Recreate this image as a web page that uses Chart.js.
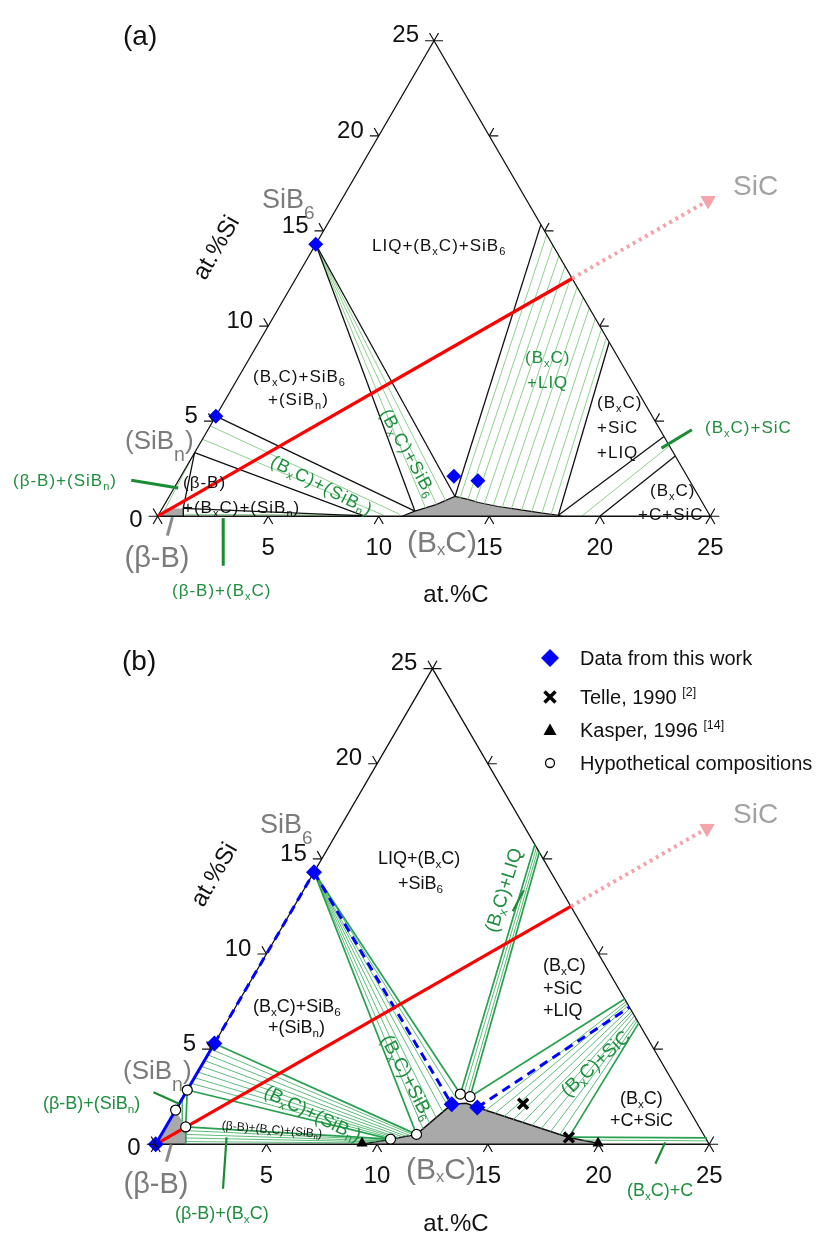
<!DOCTYPE html>
<html>
<head>
<meta charset="utf-8">
<title>B–C–Si isothermal section, B-rich corner</title>
<script src="https://cdn.jsdelivr.net/npm/chart.js@4.4.1/dist/chart.umd.min.js"></script>
<style>
  html, body { margin: 0; padding: 0; background: #ffffff; }
  #wrap { position: relative; width: 824px; height: 1236px; overflow: hidden; background: #ffffff; }
  #wrap canvas { position: absolute; left: 0; }
</style>
</head>
<body>
<div id="wrap">
  <canvas id="panelA" width="824" height="636" style="top:0px"></canvas>
  <canvas id="panelB" width="824" height="636" style="top:600px"></canvas>
</div>
<script>
// Compositions are written as [at.% C, at.% Si]; boron is the balance.

// axis ticks on all three sides of the partial triangle
const sideTicks = [0, 5, 10, 15, 20, 25];
const siTickLabels = ['0', '5', '10', '15', '20', '25'];
const cTickLabels = ['', '5', '10', '15', '20', '25'];

// measured compositions
const thisWorkA = [[0, 14.3], [0, 5.26], [12.35, 2.1], [13.55, 1.87]];
const thisWorkB = [[0, 0], [0, 5.3], [0, 14.3], [12.32, 2.1], [13.56, 1.93]];
const telle1990 = [[15.53, 2.13], [18.48, 0.36]];
const kasper1996 = [[9.29, 0.06], [19.95, 0.06]];
const hypothetical = [[10.47, 0.27], [11.52, 0.52], [12.44, 2.64], [12.95, 2.5], [0, 2.85], [0, 1.8], [0.9, 0.91]];

// B corner to SiC join, solid inside the section, dotted beyond it
const sicJoin = [[0, 0], [12.5, 12.5]];
const sicBeyond = [[12.5, 12.5], [16.45, 16.45]];
const sicArrowTip = [[16.6, 16.6]];

// ---- section (a) ----
const bxcFieldA = [[11.05, 0], [11.5, 0.27], [12.29, 0.61], [12.93, 1.04], [13.64, 0.87], [14.15, 0.72],
  [15.14, 0.51], [16.1, 0.36], [17.07, 0.2], [18.1, 0.05], [18.3, 0]];
const betaFieldA = [[0, 0], [0.15, 0.41], [0.95, 0.41], [1.16, 0]];
const phaseBoundsA = [
  [[0, 14.3], [11.5, 0.27]],
  [[0, 14.3], [12.93, 1.04]],
  [[0, 5.26], [11.5, 0.27]],
  [[0, 3.34], [9.35, 0]],
  [[0, 3.34], [0.95, 0.41], [1.16, 0]],
  [[0.95, 0.41], [9.35, 0.02]],
  [[12.93, 1.04], [9.67, 15.33]],
  [[18.1, 0.05], [15.85, 9.15]],
  [[18.1, 0.05], [20.81, 4.19]],
  [[20, 0], [21.83, 3.17]]
];
const tieLinesA = [
  [[0, 14.3], [11.9, 0.44]], [[0, 14.3], [12.3, 0.62]], [[0, 14.3], [12.62, 0.82]],
  [[0, 4.75], [10.9, 0.1]], [[0, 4.05], [10.2, 0.05]],
  [[0, 3.34], [0.15, 0.41]],
  [[1.16, 0.1], [9.35, 0.06]],
  [[13.2, 0.95], [10.2, 14.8]], [[13.6, 0.87], [10.75, 14.25]], [[14.0, 0.76], [11.3, 13.7]],
  [[14.45, 0.66], [11.85, 13.15]], [[14.9, 0.57], [12.4, 12.6]], [[15.35, 0.48], [12.95, 12.05]],
  [[15.8, 0.41], [13.5, 11.5]], [[16.3, 0.33], [14.05, 10.95]], [[16.8, 0.25], [14.6, 10.4]],
  [[17.3, 0.17], [15.15, 9.85]], [[17.75, 0.1], [15.6, 9.4]],
  [[19.2, 0.03], [21.3, 3.7]]
];
const greenPointersA = [
  [[-2.14, 1.89], [0.19, 1.48]],
  [[3.01, -0.1], [4.27, -2.61]],
  [[21.0, 3.58], [21.89, 4.55]]
];
const grayPointersA = [[[0.69, -0.05], [0.95, -1.02]]];

// ---- section (b) ----
const bxcFieldB = [[9.29, 0], [10.47, 0.27], [11.52, 0.52], [12.32, 2.1], [12.95, 2.15], [13.56, 1.93],
  [18.48, 0.36], [19.95, 0.05], [20.1, 0]];
const betaFieldB = [[0, 0], [0, 1.8], [0.35, 1.45], [0.7, 1.1], [0.9, 0.91], [1.36, 0]];
const phaseBoundsB = [
  [[0, 14.3], [11.52, 0.52]],
  [[0, 14.3], [12.44, 2.64]],
  [[0, 5.3], [11.52, 0.52]],
  [[0, 2.85], [10.47, 0.27]],
  [[0.9, 0.91], [10.47, 0.27]],
  [[0, 2.85], [0.9, 0.91], [1.36, 0]],
  [[12.44, 2.64], [9.25, 15.75]],
  [[12.95, 2.5], [9.65, 15.35]],
  [[12.95, 2.5], [17.36, 7.64]],
  [[18.48, 0.36], [18.63, 6.37]],
  [[18.48, 0.38], [24.72, 0.34]]
];
const tieLinesB = [
  [[0, 14.3], [11.68, 0.8]], [[0, 14.3], [11.82, 1.1]], [[0, 14.3], [11.97, 1.4]],
  [[0, 14.3], [12.12, 1.7]], [[0, 14.3], [12.25, 1.95]], [[0, 14.3], [12.38, 2.4]],
  [[0, 5.0], [11.4, 0.49]], [[0, 4.7], [11.25, 0.46]], [[0, 4.4], [11.1, 0.42]], [[0, 4.1], [10.95, 0.39]],
  [[0, 3.8], [10.8, 0.35]], [[0, 3.5], [10.7, 0.33]], [[0, 3.2], [10.6, 0.3]],
  [[1.0, 0.72], [10.3, 0.23]], [[1.1, 0.52], [10.1, 0.18]], [[1.2, 0.33], [9.9, 0.13]], [[1.3, 0.14], [9.6, 0.07]],
  [[0, 2.4], [0.6, 1.2]],
  [[12.6, 2.6], [9.4, 15.6]], [[12.8, 2.55], [9.52, 15.48]],
  [[14.0, 1.76], [17.5, 7.5]], [[14.5, 1.6], [17.6, 7.4]], [[15.0, 1.45], [17.7, 7.3]],
  [[15.5, 1.29], [17.85, 7.15]], [[16.0, 1.14], [18.0, 7.0]], [[16.5, 0.98], [18.1, 6.9]],
  [[17.0, 0.82], [18.25, 6.75]], [[17.5, 0.67], [18.4, 6.6]], [[18.0, 0.51], [18.5, 6.5]],
  [[19.2, 0.22], [24.82, 0.18]]
];
const blueSolidB = [[[0, 0], [0, 5.3]]];
const blueDashedB = [
  [[0, 5.3], [0, 14.3]],
  [[0, 14.3], [12.32, 2.1]],
  [[13.56, 1.93], [17.8, 7.2]]
];
const greenPointersB = [
  [[-1.47, 2.74], [-0.01, 2.13]],
  [[3.02, 0.36], [4.21, -2.34]],
  [[22.96, 0.1], [23.08, -1.02]],
  [[10.0, 12.25], [9.95, 13.35]]
];
const grayPointersB = [[[0.70, 0], [0.94, -0.91]]];

// ---------------------------------------------------------------
const FONT = 'Arial, "Liberation Sans", Helvetica, sans-serif';
const INK = '#111111', GRAY_TXT = '#7b7b7b', SIC_TXT = '#a2a2a2', GRAY_FILL = '#a9a9a9';
const GREEN_TXT = '#1f8f3f', GREEN_LINE = '#27a04f', GREEN_THIN = '#4db36c', GREEN_PALE = '#8fd08f', POINTER = '#1c8c34';
const BLUE = '#0000ff', RED = '#ff0000', PINK = '#f4a3ab';
const H = Math.sqrt(3) / 2;
const toXY = ([c, s]) => ({ x: c + s / 2, y: s * H });

function polyline(pts, color, width, extra) {
  return Object.assign({
    data: pts.map(toXY), showLine: true, borderColor: color, borderWidth: width,
    pointRadius: 0, pointHoverRadius: 0, fill: false, tension: 0
  }, extra || {});
}
function markers(pts, extra) {
  return Object.assign({ data: pts.map(toXY), showLine: false }, extra);
}

// rich text: _{..} subscript, ^{..} superscript
function parseRich(s) {
  const runs = []; let buf = ''; let i = 0;
  while (i < s.length) {
    const ch = s[i];
    if ((ch === '_' || ch === '^') && s[i + 1] === '{') {
      if (buf) { runs.push({ t: buf, k: 0 }); buf = ''; }
      const j = s.indexOf('}', i);
      runs.push({ t: s.slice(i + 2, j), k: ch === '_' ? 1 : 2 });
      i = j + 1;
    } else { buf += ch; i++; }
  }
  if (buf) runs.push({ t: buf, k: 0 });
  return runs;
}
function drawRich(ctx, lab, x, y) {
  const size = lab.size || 18;
  const sub = size * (lab.subScale || 0.65);
  const runs = parseRich(lab.t);
  ctx.save();
  ctx.letterSpacing = (lab.ls || 0) + 'px';
  let w = 0;
  runs.forEach(r => { ctx.font = (r.k ? sub : size) + 'px ' + FONT; r.w = ctx.measureText(r.t).width; w += r.w; });
  ctx.translate(x, y);
  if (lab.rot) ctx.rotate(lab.rot * Math.PI / 180);
  ctx.fillStyle = lab.color || INK;
  ctx.textBaseline = 'alphabetic';
  let cx = lab.align === 'left' ? 0 : lab.align === 'right' ? -w : -w / 2;
  const base = size * 0.36;
  runs.forEach(r => {
    ctx.font = (r.k ? sub : size) + 'px ' + FONT;
    const dy = r.k === 1 ? size * (lab.subDrop || 0.2) : r.k === 2 ? -size * 0.4 : 0;
    ctx.fillText(r.t, cx, base + dy);
    cx += r.w;
  });
  ctx.restore();
}

// frame ticks, tick labels, text and legend
const ternaryDecor = {
  id: 'ternaryDecor',
  afterDatasetsDraw(chart, args, o) {
    const ctx = chart.ctx, xs = chart.scales.x, ys = chart.scales.y;
    const px = (c, s) => [xs.getPixelForValue(c + s / 2), ys.getPixelForValue(s * H)];
    const L = 9;
    ctx.save();
    ctx.strokeStyle = INK; ctx.lineWidth = 1.2;
    const leg = (p, dx, dy) => { ctx.moveTo(p[0], p[1]); ctx.lineTo(p[0] + dx, p[1] + dy); };
    ctx.beginPath();
    sideTicks.forEach(v => {
      const b = px(v, 0), l = px(0, v), r = px(25 - v, v);
      leg(b, -0.5 * L, H * L); leg(b, 0.5 * L, H * L);
      leg(l, -L, 0); leg(l, -0.5 * L, -H * L);
      leg(r, L, 0); leg(r, 0.5 * L, -H * L);
    });
    ctx.stroke();
    ctx.restore();
    sideTicks.forEach((v, i) => {
      const l = px(0, v);
      drawRich(ctx, { t: siTickLabels[i], size: 24, align: 'right' }, l[0] - 15, l[1] + (v === 0 ? 2 : -7));
      if (cTickLabels[i]) {
        const b = px(v, 0);
        drawRich(ctx, { t: cTickLabels[i], size: 24 }, b[0], b[1] + 30);
      }
    });
    (o.labels || []).forEach(lab => drawRich(ctx, lab, lab.x, lab.y - o.top));
    if (o.legend) {
      const lg = o.legend;
      lg.items.forEach(it => {
        const x = lg.x, y = it.y - o.top;
        ctx.save();
        ctx.beginPath();
        if (it.mark === 'diamond') {
          ctx.fillStyle = BLUE;
          ctx.moveTo(x, y - 9); ctx.lineTo(x + 9, y); ctx.lineTo(x, y + 9); ctx.lineTo(x - 9, y); ctx.closePath(); ctx.fill();
        } else if (it.mark === 'cross') {
          ctx.strokeStyle = '#000'; ctx.lineWidth = 3.5;
          ctx.moveTo(x - 5.5, y - 5.5); ctx.lineTo(x + 5.5, y + 5.5); ctx.moveTo(x + 5.5, y - 5.5); ctx.lineTo(x - 5.5, y + 5.5); ctx.stroke();
        } else if (it.mark === 'triangle') {
          ctx.fillStyle = '#000';
          ctx.moveTo(x, y - 6.5); ctx.lineTo(x + 6.5, y + 5); ctx.lineTo(x - 6.5, y + 5); ctx.closePath(); ctx.fill();
        } else {
          ctx.fillStyle = '#fff'; ctx.strokeStyle = '#000'; ctx.lineWidth = 1.3;
          ctx.arc(x, y, 4.5, 0, Math.PI * 2); ctx.fill(); ctx.stroke();
        }
        ctx.restore();
        drawRich(ctx, { t: it.t, size: lg.size, align: 'left', subScale: 0.62 }, lg.tx, y);
      });
    }
  }
};

function ternaryChart(id, spec) {
  const cv = document.getElementById(id);
  const W = cv.width, Hc = cv.height, u = spec.unit, ox = spec.origin[0], oy = spec.origin[1];
  return new Chart(cv, {
    type: 'scatter',
    data: { datasets: spec.layers.slice().reverse() },
    options: {
      responsive: false, animation: false, devicePixelRatio: 1, events: [],
      layout: { padding: 0 },
      scales: {
        x: { type: 'linear', display: false, bounds: 'data', min: -ox / u, max: (W - ox) / u },
        y: { type: 'linear', display: false, bounds: 'data', min: -(Hc - oy) / u, max: oy / u }
      },
      plugins: { legend: { display: false }, tooltip: { enabled: false }, ternaryDecor: spec.decor }
    },
    plugins: [ternaryDecor]
  });
}

const frame = [[0, 0], [25, 0], [0, 25], [0, 0]];
const sicLayers = () => [
  polyline(sicJoin, RED, 3.2),
  polyline(sicBeyond, PINK, 4, { borderDash: [3, 4] }),
  markers(sicArrowTip, { pointStyle: 'triangle', pointRadius: 8, rotation: 60, backgroundColor: PINK, borderColor: PINK, borderWidth: 1 })
];

// ---------- section (a) ----------
const layersA = [];
layersA.push(polyline(bxcFieldA, INK, 1.2, { fill: 'origin', backgroundColor: GRAY_FILL }));
layersA.push(polyline(betaFieldA, 'rgba(0,0,0,0)', 0, { fill: 'origin', backgroundColor: GRAY_FILL }));
tieLinesA.forEach(t => layersA.push(polyline(t, GREEN_PALE, 1)));
layersA.push(polyline(frame, INK, 1.3));
phaseBoundsA.forEach(b => layersA.push(polyline(b, INK, 1.3)));
greenPointersA.forEach(p => layersA.push(polyline(p, POINTER, 3)));
grayPointersA.forEach(p => layersA.push(polyline(p, '#8a8a8a', 3)));
sicLayers().forEach(d => layersA.push(d));
layersA.push(markers(thisWorkA, { pointStyle: 'rectRot', pointRadius: 7.5, backgroundColor: BLUE, borderColor: BLUE, borderWidth: 0 }));

const RA = { size: 17, ls: 1, align: 'left' };
const labelsA = [
  { t: '(a)', x: 123, y: 35, size: 28, align: 'left' },
  { t: 'at.%C', x: 456, y: 593, size: 24 },
  { t: 'at.%Si', x: 215, y: 247, size: 24, rot: -60 },
  { t: 'SiB_{6}', x: 262, y: 198, size: 27, color: GRAY_TXT, align: 'left', subScale: 0.7, subDrop: 0.42 },
  { t: '(SiB_{n})', x: 125, y: 440, size: 26, color: GRAY_TXT, align: 'left', subScale: 0.75, subDrop: 0.45 },
  { t: '(β-B)', x: 157, y: 557, size: 29, color: GRAY_TXT },
  { t: '(B_{x}C)', x: 442, y: 541, size: 30, color: GRAY_TXT, subScale: 0.55, subDrop: 0.12 },
  { t: 'SiC', x: 733, y: 185, size: 28, color: SIC_TXT, align: 'left' },
  Object.assign({ t: 'LIQ+(B_{x}C)+SiB_{6}', x: 372, y: 245 }, RA),
  Object.assign({ t: '(B_{x}C)+SiB_{6}', x: 253, y: 376 }, RA),
  Object.assign({ t: '+(SiB_{n})', x: 268, y: 399 }, RA),
  Object.assign({ t: '(β-B)', x: 183, y: 482 }, RA),
  Object.assign({ t: '+(B_{x}C)+(SiB_{n})', x: 183, y: 507 }, RA),
  Object.assign({ t: '(B_{x}C)', x: 597, y: 402 }, RA),
  Object.assign({ t: '+SiC', x: 597, y: 427 }, RA),
  Object.assign({ t: '+LIQ', x: 597, y: 452 }, RA),
  Object.assign({ t: '(B_{x}C)', x: 650, y: 490 }, RA),
  Object.assign({ t: '+C+SiC', x: 638, y: 514 }, RA),
  Object.assign({ t: '(B_{x}C)', x: 525, y: 357, color: GREEN_TXT }, RA),
  Object.assign({ t: '+LIQ', x: 527, y: 382, color: GREEN_TXT }, RA),
  { t: '(B_{x}C)+SiB_{6}', x: 409, y: 453, size: 18, ls: 1, rot: 61, color: GREEN_TXT },
  { t: '(B_{x}C)+(SiB_{n})', x: 322, y: 485, size: 18, ls: 1, rot: 27, color: GREEN_TXT },
  Object.assign({ t: '(β-B)+(SiB_{n})', x: 13, y: 480, color: GREEN_TXT }, RA),
  Object.assign({ t: '(β-B)+(B_{x}C)', x: 172, y: 590, color: GREEN_TXT }, RA),
  Object.assign({ t: '(B_{x}C)+SiC', x: 705, y: 427, color: GREEN_TXT }, RA)
];

ternaryChart('panelA', {
  origin: [152, 522], unit: 22.6, layers: layersA,
  decor: { top: 0, labels: labelsA }
});

// ---------- section (b) ----------
const layersB = [];
layersB.push(polyline(bxcFieldB, INK, 1.5, { fill: 'origin', backgroundColor: GRAY_FILL }));
layersB.push(polyline(betaFieldB, 'rgba(0,0,0,0)', 0, { fill: 'origin', backgroundColor: GRAY_FILL }));
tieLinesB.forEach(t => layersB.push(polyline(t, GREEN_THIN, 0.9)));
layersB.push(polyline(frame, INK, 1.3));
phaseBoundsB.forEach(b => layersB.push(polyline(b, GREEN_LINE, 1.7)));
blueSolidB.forEach(b => layersB.push(polyline(b, BLUE, 3)));
blueDashedB.forEach(b => layersB.push(polyline(b, BLUE, 3, { borderDash: [9, 6] })));
greenPointersB.forEach(p => layersB.push(polyline(p, POINTER, 2.2)));
grayPointersB.forEach(p => layersB.push(polyline(p, '#8a8a8a', 3)));
sicLayers().forEach(d => layersB.push(d));
layersB.push(markers(hypothetical, { pointStyle: 'circle', pointRadius: 5, backgroundColor: '#ffffff', borderColor: '#000000', borderWidth: 1.2 }));
layersB.push(markers(kasper1996, { pointStyle: 'triangle', pointRadius: 6.5, backgroundColor: '#000000', borderColor: '#000000', borderWidth: 0 }));
layersB.push(markers(telle1990, { pointStyle: 'crossRot', pointRadius: 7, borderColor: '#000000', borderWidth: 3.5 }));
layersB.push(markers(thisWorkB, { pointStyle: 'rectRot', pointRadius: 8, backgroundColor: BLUE, borderColor: BLUE, borderWidth: 0 }));

const RB = { size: 18, align: 'left' };
const labelsB = [
  { t: '(b)', x: 122, y: 660, size: 28, align: 'left' },
  { t: 'at.%C', x: 456, y: 1222, size: 24 },
  { t: 'at.%Si', x: 213, y: 874, size: 24, rot: -60 },
  { t: 'SiB_{6}', x: 260, y: 823, size: 27, color: GRAY_TXT, align: 'left', subScale: 0.7, subDrop: 0.42 },
  { t: '(SiB_{n})', x: 123, y: 1070, size: 26, color: GRAY_TXT, align: 'left', subScale: 0.75, subDrop: 0.45 },
  { t: '(β-B)', x: 156, y: 1183, size: 29, color: GRAY_TXT },
  { t: '(B_{x}C)', x: 441, y: 1168, size: 30, color: GRAY_TXT, subScale: 0.55, subDrop: 0.12 },
  { t: 'SiC', x: 733, y: 813, size: 28, color: SIC_TXT, align: 'left' },
  Object.assign({ t: 'LIQ+(B_{x}C)', x: 378, y: 858 }, RB),
  Object.assign({ t: '+SiB_{6}', x: 398, y: 883 }, RB),
  Object.assign({ t: '(B_{x}C)+SiB_{6}', x: 253, y: 1006 }, RB),
  Object.assign({ t: '+(SiB_{n})', x: 268, y: 1027 }, RB),
  { t: '(β-B)+(B_{x}C)+(SiB_{n})', x: 272, y: 1129, size: 12, rot: 5 },
  Object.assign({ t: '(B_{x}C)', x: 543, y: 965 }, RB),
  Object.assign({ t: '+SiC', x: 543, y: 988 }, RB),
  Object.assign({ t: '+LIQ', x: 543, y: 1010 }, RB),
  Object.assign({ t: '(B_{x}C)', x: 620, y: 1098 }, RB),
  Object.assign({ t: '+C+SiC', x: 610, y: 1120 }, RB),
  { t: '(B_{x}C)+LIQ', x: 503, y: 890, size: 19, rot: -73, color: GREEN_TXT },
  { t: '(B_{x}C)+SiB_{6}', x: 408, y: 1077, size: 19, rot: 62.5, color: GREEN_TXT },
  { t: '(B_{x}C)+(SiB_{n})', x: 313, y: 1113, size: 19, rot: 26, color: GREEN_TXT },
  { t: '(B_{x}C)+SiC', x: 595, y: 1063, size: 19, rot: -43, color: GREEN_TXT },
  Object.assign({ t: '(β-B)+(SiB_{n})', x: 43, y: 1103, color: GREEN_TXT }, RB),
  Object.assign({ t: '(β-B)+(B_{x}C)', x: 175, y: 1213, color: GREEN_TXT }, RB),
  Object.assign({ t: '(B_{x}C)+C', x: 627, y: 1190, color: GREEN_TXT }, RB)
];
const legendB = {
  x: 550, tx: 580, size: 20,
  items: [
    { mark: 'diamond', t: 'Data from this work', y: 658 },
    { mark: 'cross', t: 'Telle, 1990 ^{[2]}', y: 697 },
    { mark: 'triangle', t: 'Kasper, 1996 ^{[14]}', y: 730 },
    { mark: 'circle', t: 'Hypothetical compositions', y: 763 }
  ]
};

ternaryChart('panelB', {
  origin: [149, 552], unit: 22.72, layers: layersB,
  decor: { top: 600, labels: labelsB, legend: legendB }
});
</script>
</body>
</html>
